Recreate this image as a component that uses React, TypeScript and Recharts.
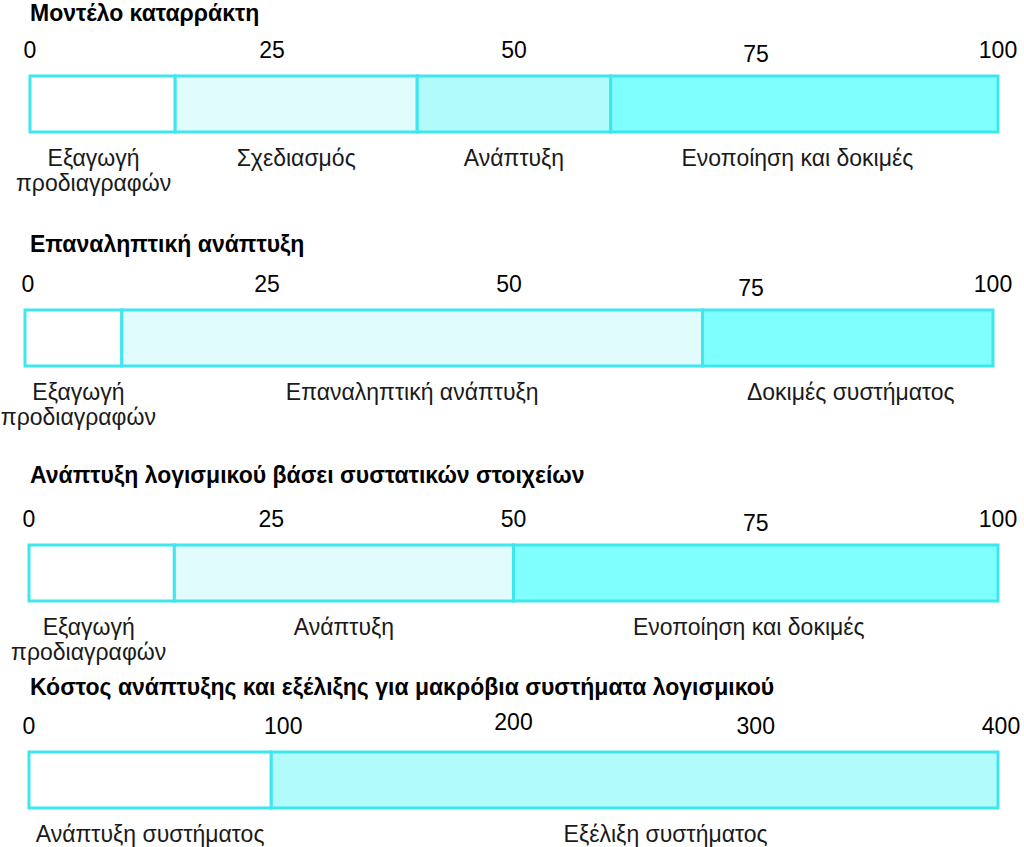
import { BarChart, Bar, XAxis, YAxis, LabelList } from "recharts";

// panel titles
const TITLES = [
  "Μοντέλο καταρράκτη",
  "Επαναληπτική ανάπτυξη",
  "Ανάπτυξη λογισμικού βάσει συστατικών στοιχείων",
  "Κόστος ανάπτυξης και εξέλιξης για μακρόβια συστήματα λογισμικού",
];

// phases + share of cost per panel
const WATERFALL_PHASES = ["Εξαγωγή\nπροδιαγραφών", "Σχεδιασμός", "Ανάπτυξη", "Ενοποίηση και δοκιμές"];
const WATERFALL_VALUES = [15, 25, 20, 40];

const ITERATIVE_PHASES = ["Εξαγωγή\nπροδιαγραφών", "Επαναληπτική ανάπτυξη", "Δοκιμές συστήματος"];
const ITERATIVE_VALUES = [10, 60, 30];

const CBSE_PHASES = ["Εξαγωγή\nπροδιαγραφών", "Ανάπτυξη", "Ενοποίηση και δοκιμές"];
const CBSE_VALUES = [15, 35, 50];

const EVOLUTION_PHASES = ["Ανάπτυξη συστήματος", "Εξέλιξη συστήματος"];
const EVOLUTION_VALUES = [100, 300];

// axis ticks
const PERCENT_TICKS = [0, 25, 50, 75, 100];
const COST_TICKS = [0, 100, 200, 300, 400];

const COLORS = {
  white: "#ffffff",
  pale: "#e0fcfc",
  light: "#b2fbfb",
  cyan: "#80ffff",
  border: "#3ee6ee",
};

const FONT = "'Liberation Sans', Arial, sans-serif";
const TEXT_SIZE = 23;

type Nudge = Record<number, [number, number]>;

interface PanelProps {
  title: string;
  phases: string[];
  values: number[];
  ticks: number[];
  fills: string[];
  top: number;
  titleTop: number;
  left: number;
  right: number;
  nudge: Nudge;
  labelShift: number[];
}

const makeTick = (nudge: Nudge) => (props: any) => {
  const { x, y, payload } = props;
  const [dx, dy] = nudge[payload.value] ?? [0, 0];
  return (
    <text x={x + dx} y={y + dy} textAnchor="middle" fontSize={TEXT_SIZE} fill="#000" fontFamily={FONT}>
      {payload.value}
    </text>
  );
};

const makeLabel = (text: string, shift: number) => (props: any) => {
  const box = props.viewBox ?? props;
  const { x, y, width, height } = box;
  const cx = x + width / 2 + shift;
  const lines = text.split("\n");
  return (
    <text textAnchor="middle" fontSize={TEXT_SIZE} fill="#1a1a1a" fontFamily={FONT}>
      {lines.map((line, i) => (
        <tspan key={i} x={cx} y={y + height + 34 + i * 25}>
          {line}
        </tspan>
      ))}
    </text>
  );
};

function Panel({ title, phases, values, ticks, fills, top, titleTop, left, right, nudge, labelShift }: PanelProps) {
  const row: Record<string, number | string> = { name: "row" };
  values.forEach((v, i) => {
    row[`s${i}`] = v;
  });
  const max = ticks[ticks.length - 1];

  return (
    <>
      <div
        style={{
          position: "absolute",
          left: 30,
          top: titleTop,
          fontFamily: FONT,
          fontWeight: "bold",
          fontSize: TEXT_SIZE,
          lineHeight: `${TEXT_SIZE + 4}px`,
          color: "#000",
          whiteSpace: "nowrap",
        }}
      >
        {title}
      </div>
      <div style={{ position: "absolute", left: 0, top }}>
        <BarChart
          width={1024}
          height={210}
          data={[row]}
          layout="vertical"
          margin={{ top: 46, right, bottom: 78, left }}
          barCategoryGap={0}
        >
          <XAxis
            type="number"
            orientation="top"
            domain={[0, max]}
            ticks={ticks}
            interval={0}
            height={30}
            axisLine={false}
            tickLine={false}
            tickSize={0}
            tickMargin={18}
            tick={makeTick(nudge)}
          />
          <YAxis type="category" dataKey="name" hide width={0} />
          {values.map((_, i) => (
            <Bar
              key={i}
              dataKey={`s${i}`}
              stackId="a"
              fill={fills[i]}
              stroke={COLORS.border}
              strokeWidth={3}
              isAnimationActive={false}
            >
              <LabelList dataKey={`s${i}`} content={makeLabel(phases[i], labelShift[i] ?? 0)} />
            </Bar>
          ))}
        </BarChart>
      </div>
    </>
  );
}

export default function App() {
  return (
    <div
      style={{
        position: "absolute",
        left: 0,
        top: 0,
        width: 1024,
        height: 847,
        overflow: "hidden",
        background: "#fff",
      }}
    >
      <Panel
        title={TITLES[0]}
        phases={WATERFALL_PHASES}
        values={WATERFALL_VALUES}
        ticks={PERCENT_TICKS}
        fills={[COLORS.white, COLORS.pale, COLORS.light, COLORS.cyan]}
        top={0}
        titleTop={0}
        left={30}
        right={26}
        nudge={{ 75: [0, 4] }}
        labelShift={[-9, 0, 0, -7]}
      />
      <Panel
        title={TITLES[1]}
        phases={ITERATIVE_PHASES}
        values={ITERATIVE_VALUES}
        ticks={PERCENT_TICKS}
        fills={[COLORS.white, COLORS.pale, COLORS.cyan]}
        top={234}
        titleTop={231}
        left={25}
        right={31}
        nudge={{ 0: [3, 0], 75: [0, 4] }}
        labelShift={[5, 0, 3]}
      />
      <Panel
        title={TITLES[2]}
        phases={CBSE_PHASES}
        values={CBSE_VALUES}
        ticks={PERCENT_TICKS}
        fills={[COLORS.white, COLORS.pale, COLORS.cyan]}
        top={469}
        titleTop={462}
        left={29}
        right={26}
        nudge={{ 75: [0, 4] }}
        labelShift={[-13, 0, -7]}
      />
      <Panel
        title={TITLES[3]}
        phases={EVOLUTION_PHASES}
        values={EVOLUTION_VALUES}
        ticks={COST_TICKS}
        fills={[COLORS.white, COLORS.light]}
        top={676}
        titleTop={674}
        left={29}
        right={26}
        nudge={{ 100: [12, 0], 200: [0, -4], 400: [3, 0] }}
        labelShift={[0, 31]}
      />
    </div>
  );
}
